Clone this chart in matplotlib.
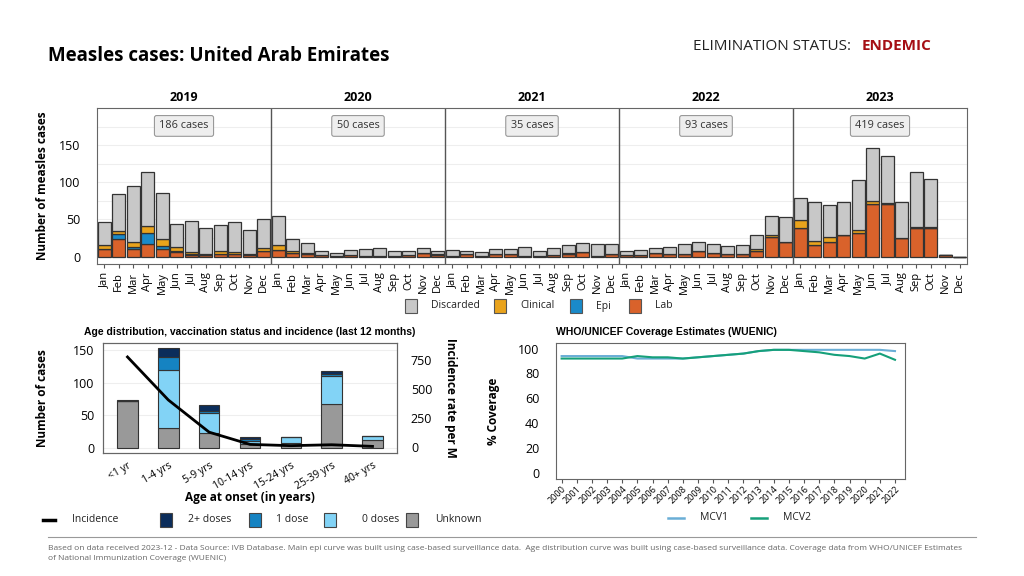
import matplotlib
matplotlib.use("Agg")
import matplotlib.pyplot as plt
import numpy as np
from matplotlib.patches import Rectangle
from matplotlib.lines import Line2D

plt.rcParams['font.family'] = ['Open Sans', 'DejaVu Sans']

# ---------------- data ----------------
years = ['2019', '2020', '2021', '2022', '2023']
month_names = ['Jan', 'Feb', 'Mar', 'Apr', 'May', 'Jun', 'Jul', 'Aug', 'Sep', 'Oct', 'Nov', 'Dec']
year_totals = ['186 cases', '50 cases', '35 cases', '93 cases', '419 cases']

lab = [10, 24, 10, 17, 10, 6, 2, 2, 4, 3, 2, 7,
       9, 5, 3, 2, 1, 2, 1, 1, 1, 2, 5, 2,
       1, 3, 1, 4, 4, 1, 1, 2, 4, 6, 1, 4,
       2, 2, 5, 3, 3, 7, 5, 4, 4, 8, 27, 20,
       39, 16, 20, 29, 32, 71, 71, 25, 39, 39, 2, 0]
epi = [0, 6, 3, 15, 4, 2, 1, 0, 0, 0, 2, 0,
       0, 0, 0, 0, 0, 0, 0, 0, 0, 0, 0, 0,
       0, 0, 0, 0, 0, 0, 0, 0, 0, 0, 0, 0,
       0, 0, 0, 0, 0, 0, 0, 0, 0, 0, 0, 0,
       0, 0, 0, 0, 0, 0, 0, 0, 0, 0, 0, 0]
clinical = [5, 4, 6, 9, 10, 5, 3, 2, 3, 3, 0, 4,
            7, 3, 2, 0, 0, 0, 0, 0, 0, 0, 0, 1,
            0, 0, 0, 0, 0, 0, 0, 0, 1, 0, 0, 0,
            0, 0, 0, 0, 0, 0, 0, 0, 0, 2, 2, 0,
            10, 5, 7, 0, 4, 4, 1, 0, 1, 1, 0, 0]
discarded = [32, 50, 76, 73, 62, 31, 42, 35, 36, 41, 32, 40,
             38, 16, 13, 5, 4, 7, 9, 10, 6, 6, 7, 4,
             8, 5, 5, 6, 6, 12, 6, 9, 10, 12, 16, 13,
             5, 7, 6, 10, 14, 12, 12, 10, 12, 19, 26, 33,
             30, 53, 43, 45, 67, 71, 63, 48, 74, 65, 0, 0]

age_groups = ['<1 yr', '1-4 yrs', '5-9 yrs', '10-14 yrs', '15-24 yrs', '25-39 yrs', '40+ yrs']
unknown = [72, 30, 22, 6, 8, 67, 12]
dose0 = [0, 90, 31, 4, 9, 44, 6]
dose1 = [0, 19, 3, 3, 0, 3, 0]
dose2 = [2, 15, 10, 3, 0, 4, 0]
incidence = [772, 402, 125, 20, 9, 17, 3]

cov_years = list(range(2000, 2023))
mcv1 = [94, 94, 94, 94, 94, 92, 92, 92, 92, 93, 94, 95, 96, 98, 99, 99, 99, 99, 99, 99, 99, 99, 98]
mcv2 = [92, 92, 92, 92, 92, 94, 93, 93, 92, 93, 94, 95, 96, 98, 99, 99, 98, 97, 95, 94, 92, 96, 91]

# ---------------- colours ----------------
C_LAB = '#d9622b'
C_EPI = '#1a8ac9'
C_CLIN = '#e9a31c'
C_DISC = '#c8c8c8'
C_D2 = '#0b2d5b'
C_D1 = '#1583c2'
C_D0 = '#82d3f6'
C_UNK = '#999999'
C_MCV1 = '#6aaed6'
C_MCV2 = '#16a07a'
EDGE = '#333333'

W, H = 1024, 576
fig = plt.figure(figsize=(W / 100, H / 100), dpi=100)


def ax_px(l, t, r, b):
    return fig.add_axes([l / W, 1 - b / H, (r - l) / W, (b - t) / H])


def fx(x):
    return x / W


def fy(y):
    return 1 - y / H


# ---------------- header ----------------
fig.text(fx(48), fy(56), 'Measles cases: United Arab Emirates', fontsize=13.5,
         fontweight='bold', va='center', ha='left')
fig.text(fx(851), fy(46), 'ELIMINATION STATUS:', fontsize=11, va='center', ha='right', color='#222222')
fig.text(fx(862), fy(46), 'ENDEMIC', fontsize=11, va='center', ha='left', fontweight='bold', color='#a50f15')

# ---------------- top epi curve ----------------
ax = ax_px(97, 108, 967, 264)
x = np.arange(len(lab))
lab_a = np.array(lab)
epi_a = np.array(epi)
clin_a = np.array(clinical)
disc_a = np.array(discarded)
bw = 0.9
kw = dict(width=bw, edgecolor=EDGE, linewidth=0.9)
ax.bar(x, lab_a, color=C_LAB, **kw)
ax.bar(x, epi_a, bottom=lab_a, color=C_EPI, **kw)
ax.bar(x, clin_a, bottom=lab_a + epi_a, color=C_CLIN, **kw)
ax.bar(x, disc_a, bottom=lab_a + epi_a + clin_a, color=C_DISC, **kw)
ax.set_xlim(-0.5, len(lab) - 0.5)
ax.set_ylim(-10, 200)
ax.set_yticks([0, 50, 100, 150])
ax.set_yticks([25, 75, 125, 175], minor=True)
ax.grid(axis='y', which='both', color='#eeeeee', linewidth=0.8)
ax.set_axisbelow(True)
ax.set_xticks(x)
ax.set_xticklabels(month_names * len(years), rotation=90, fontsize=8)
ax.tick_params(axis='x', length=3, pad=3, color='#555555')
ax.tick_params(axis='y', which='both', length=0, pad=12, labelsize=9)
for s in ax.spines.values():
    s.set_color('#666666')
for i in range(1, len(years)):
    ax.axvline(i * 12 - 0.5, color='#555555', linewidth=1)
for i, (yr, tot) in enumerate(zip(years, year_totals)):
    cx = i * 12 + 5.5
    ax.text(cx, 1.025, yr, transform=ax.get_xaxis_transform(), ha='center', va='bottom',
            fontsize=9, fontweight='bold')
    ax.text(cx, 0.885, tot, transform=ax.get_xaxis_transform(), ha='center', va='center',
            fontsize=7.8, color='#333333',
            bbox=dict(boxstyle='round,pad=0.45,rounding_size=0.2', fc='#eeeeee', ec='#999999', lw=0.8))
fig.text(fx(43), fy(186), 'Number of measles cases', rotation=90, fontsize=8.5,
         fontweight='bold', ha='center', va='center')

# top legend
leg_items = [('Discarded', C_DISC, 411), ('Clinical', C_CLIN, 500), ('Epi', C_EPI, 576), ('Lab', C_LAB, 635)]
for label, col, px in leg_items:
    fig.patches.append(Rectangle((fx(px - 6), fy(313)), 12 / W, 14 / H, transform=fig.transFigure,
                                 facecolor=col, edgecolor='#555555', linewidth=0.8))
    fig.text(fx(px + 20), fy(306), label, fontsize=7.5, va='center', ha='left', color='#222222')

# ---------------- age distribution ----------------
ax2 = ax_px(103, 343, 397, 453)
xa = np.arange(len(age_groups))
u = np.array(unknown)
d0 = np.array(dose0)
d1 = np.array(dose1)
d2 = np.array(dose2)
kw2 = dict(width=0.5, edgecolor=EDGE, linewidth=0.8)
ax2.bar(xa, u, color=C_UNK, **kw2)
ax2.bar(xa, d0, bottom=u, color=C_D0, **kw2)
ax2.bar(xa, d1, bottom=u + d0, color=C_D1, **kw2)
ax2.bar(xa, d2, bottom=u + d0 + d1, color=C_D2, **kw2)
ax2.set_xlim(-0.6, len(age_groups) - 0.4)
ax2.set_ylim(-8, 161)
ax2.set_yticks([0, 50, 100, 150])
ax2.grid(axis='y', color='#eeeeee', linewidth=0.8)
ax2.set_axisbelow(True)
ax2.set_xticks(xa)
ax2.set_xticklabels(age_groups, rotation=30, ha='right', rotation_mode='anchor', fontsize=7.5)
ax2.tick_params(axis='x', length=0, pad=5)
ax2.tick_params(axis='y', length=0, pad=6, labelsize=9)
for s in ax2.spines.values():
    s.set_color('#666666')
ax2r = ax2.twinx()
ax2r.plot(xa, incidence, color='black', linewidth=2)
ax2r.set_ylim(-54, 892)
ax2r.set_yticks([0, 250, 500, 750])
ax2r.tick_params(axis='y', length=0, pad=10, labelsize=9)
for s in ax2r.spines.values():
    s.set_color('#666666')
ax2.set_title('Age distribution, vaccination status and incidence (last 12 months)',
              fontsize=7.5, fontweight='bold', family=['Liberation Sans', 'DejaVu Sans'], pad=6)
fig.text(fx(43), fy(398), 'Number of cases', rotation=90, fontsize=8.5, fontweight='bold',
         ha='center', va='center')
fig.text(fx(451), fy(398), 'Incidence rate per M', rotation=270, fontsize=8.5, fontweight='bold',
         ha='center', va='center')
fig.text(fx(250), fy(497), 'Age at onset (in years)', fontsize=8.5, fontweight='bold',
         ha='center', va='center')

# bottom-left legend
fig.lines.append(Line2D([fx(43), fx(55)], [fy(520), fy(520)], transform=fig.transFigure,
                        color='black', linewidth=2.5))
fig.text(fx(72), fy(520), 'Incidence', fontsize=7.5, va='center', ha='left', color='#222222')
for label, col, px, tx in [('2+ doses', C_D2, 166, 188), ('1 dose', C_D1, 255, 276),
                           ('0 doses', C_D0, 330, 362), ('Unknown', C_UNK, 412, 435)]:
    fig.patches.append(Rectangle((fx(px - 6), fy(527)), 12 / W, 14 / H, transform=fig.transFigure,
                                 facecolor=col, edgecolor='#444444', linewidth=0.8))
    fig.text(fx(tx), fy(520), label, fontsize=7.5, va='center', ha='left', color='#222222')

# ---------------- coverage ----------------
ax3 = ax_px(556, 343, 905, 479)
ax3.plot(cov_years, mcv1, color=C_MCV1, linewidth=1.5)
ax3.plot(cov_years, mcv2, color=C_MCV2, linewidth=1.5)
ax3.set_xlim(1999.63, 2022.66)
ax3.set_ylim(-4.8, 104.5)
ax3.set_yticks([0, 20, 40, 60, 80, 100])
ax3.set_xticks(cov_years)
ax3.set_xticklabels([str(y) for y in cov_years], rotation=45, ha='right', rotation_mode='anchor',
                    fontsize=6.5)
ax3.tick_params(axis='x', length=3, pad=1, color='#555555')
ax3.tick_params(axis='y', length=0, pad=12, labelsize=9)
for s in ax3.spines.values():
    s.set_color('#666666')
ax3.set_title('WHO/UNICEF Coverage Estimates (WUENIC)', fontsize=7.5, fontweight='bold',
              family=['Liberation Sans', 'DejaVu Sans'], loc='left', pad=6)
fig.text(fx(493), fy(411), '% Coverage', rotation=90, fontsize=8.5, fontweight='bold',
         ha='center', va='center')
for label, col, x0, tx in [('MCV1', C_MCV1, 668, 700), ('MCV2', C_MCV2, 751, 783)]:
    fig.lines.append(Line2D([fx(x0), fx(x0 + 16)], [fy(518), fy(518)], transform=fig.transFigure,
                            color=col, linewidth=1.8))
    fig.text(fx(tx), fy(518), label, fontsize=7.5, va='center', ha='left', color='#222222')

# ---------------- footer ----------------
fig.lines.append(Line2D([fx(48), fx(976)], [fy(537), fy(537)], transform=fig.transFigure,
                        color='#999999', linewidth=0.8))
fig.text(fx(48), fy(549), 'Based on data received 2023-12 - Data Source: IVB Database. Main epi curve was built using '
         'case-based surveillance data.  Age distribution curve was built using case-based surveillance data. '
         'Coverage data from WHO/UNICEF Estimates', fontsize=6.05, color='#666666', va='center', ha='left')
fig.text(fx(48), fy(559), 'of National Immunization Coverage (WUENIC)', fontsize=6.05, color='#666666',
         va='center', ha='left')

fig.savefig('out.png', dpi=100)
